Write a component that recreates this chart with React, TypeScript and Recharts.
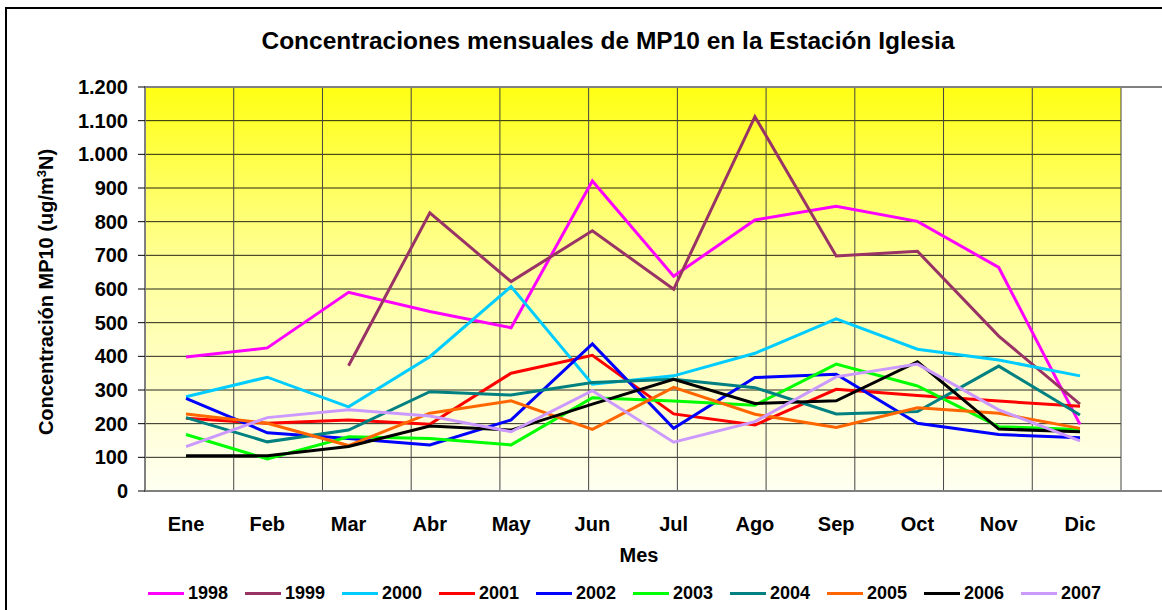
import { LineChart, Line, XAxis, YAxis, CartesianGrid, ReferenceArea } from 'recharts';

const months = ['Ene', 'Feb', 'Mar', 'Abr', 'May', 'Jun', 'Jul', 'Ago', 'Sep', 'Oct', 'Nov', 'Dic'];

const y1998 = [398, 425, 590, 533, 485, 921, 638, 805, 846, 801, 664, 198];
const y1999 = [null, null, 372, 826, 622, 773, 599, 1112, 698, 712, 460, 258];
const y2000 = [280, 338, 250, 399, 607, 317, 342, 409, 511, 421, 389, 342];
const y2001 = [216, 201, 211, 198, 350, 403, 229, 196, 302, 284, 267, 252];
const y2002 = [275, 173, 156, 137, 211, 437, 186, 337, 347, 201, 168, 158];
const y2003 = [168, 95, 161, 156, 137, 277, 267, 255, 377, 312, 191, 183];
const y2004 = [218, 146, 181, 295, 285, 322, 332, 307, 229, 236, 371, 226];
const y2005 = [229, 201, 135, 231, 268, 183, 308, 228, 189, 247, 231, 186];
const y2006 = [105, 105, 132, 193, 181, 258, 332, 260, 268, 384, 184, 176];
const y2007 = [132, 218, 241, 223, 176, 298, 145, 206, 339, 377, 241, 149];

const yTicks = [0, 100, 200, 300, 400, 500, 600, 700, 800, 900, 1000, 1100, 1200];
const boundaryTicks = [0, 1, 2, 3, 4, 5, 6, 7, 8, 9, 10, 11, 12];

const series = [
  { name: '1998', values: y1998, color: '#FF00FF' },
  { name: '1999', values: y1999, color: '#993366' },
  { name: '2000', values: y2000, color: '#00CCFF' },
  { name: '2001', values: y2001, color: '#FF0000' },
  { name: '2002', values: y2002, color: '#0000FF' },
  { name: '2003', values: y2003, color: '#00FF00' },
  { name: '2004', values: y2004, color: '#008080' },
  { name: '2005', values: y2005, color: '#FF6600' },
  { name: '2006', values: y2006, color: '#000000' },
  { name: '2007', values: y2007, color: '#CC99FF' },
];

const data = months.map((m, i) => {
  const row: Record<string, string | number | null> = { mes: m };
  series.forEach((s) => {
    row[s.name] = s.values[i];
  });
  return row;
});

const font = '"Liberation Sans", Arial, sans-serif';

// 1200 -> "1.200"
const fmt = (v: number) => String(v).replace(/\B(?=(\d{3})+(?!\d))/g, '.');

export default function App() {
  return (
    <div style={{ position: 'absolute', left: 0, top: 0, width: 1162, height: 610, overflow: 'hidden', background: '#fff', fontFamily: font }}>
      <div style={{ position: 'absolute', left: 5, top: 7, width: 1300, height: 800, border: '2px solid #000', boxSizing: 'border-box' }} />
      <div style={{ position: 'absolute', left: 0, width: 1216, top: 27, textAlign: 'center', fontWeight: 'bold', fontSize: 24.5 }}>
        Concentraciones mensuales de MP10 en la Estación Iglesia
      </div>
      <div style={{ position: 'absolute', left: 0, top: 0 }}>
        <LineChart width={1162} height={610} data={data} margin={{ top: 87, right: 41, bottom: 89, left: 85 }}>
          <defs>
            <linearGradient id="bg" x1="0" y1="0" x2="0" y2="1">
              <stop offset="0%" stopColor="#FFFF14" />
              <stop offset="45%" stopColor="#FFFF9C" />
              <stop offset="100%" stopColor="#FFFFF2" />
            </linearGradient>
          </defs>
          <CartesianGrid vertical={false} fill="url(#bg)" stroke="#000" strokeOpacity={0.85} />
          <CartesianGrid horizontal={false} xAxisId="b" stroke="#444" />
          <XAxis
            xAxisId="b"
            type="number"
            domain={[0, 12]}
            ticks={boundaryTicks}
            allowDataOverflow
            height={0}
            axisLine={false}
            tickSize={7}
            tickLine={{ stroke: '#000' }}
            tickFormatter={() => ''}
          />
          <XAxis
            xAxisId="cat"
            dataKey="mes"
            height={30}
            padding={{ left: 41, right: 41 }}
            axisLine={false}
            tickLine={false}
            tickMargin={20}
            tick={{ fill: '#000', fontSize: 20, fontWeight: 'bold', fontFamily: font }}
            interval={0}
          />
          <YAxis
            domain={[0, 1200]}
            ticks={yTicks}
            width={60}
            tickSize={7}
            tickMargin={10}
            tickFormatter={fmt}
            axisLine={{ stroke: '#808080', strokeWidth: 2 }}
            tickLine={{ stroke: '#000' }}
            tick={{ fill: '#000', fontSize: 20, fontWeight: 'bold', fontFamily: font }}
            interval={0}
          />
          <ReferenceArea xAxisId="b" x1={0} x2={12} y1={0} y2={1200} fill="none" stroke="#808080" strokeWidth={2} ifOverflow="visible" />
          {series.map((s) => (
            <Line
              key={s.name}
              xAxisId="cat"
              type="linear"
              dataKey={s.name}
              stroke={s.color}
              strokeWidth={3}
              dot={false}
              activeDot={false}
              isAnimationActive={false}
            />
          ))}
        </LineChart>
      </div>
      <div style={{ position: 'absolute', left: 46, top: 292, width: 0, height: 0 }}>
        <div style={{ position: 'absolute', transform: 'translate(-50%, -50%) rotate(-90deg)', whiteSpace: 'nowrap', fontWeight: 'bold', fontSize: 20 }}>
          Concentración MP10 (ug/m<sup style={{ fontSize: 13 }}>3</sup>N)
        </div>
      </div>
      <div style={{ position: 'absolute', left: 589, width: 100, top: 544, textAlign: 'center', fontWeight: 'bold', fontSize: 20 }}>Mes</div>
      <div style={{ position: 'absolute', left: 148, top: 583, display: 'flex' }}>
        {series.map((s) => (
          <div key={s.name} style={{ width: 97, display: 'flex', alignItems: 'center' }}>
            <div style={{ width: 36, height: 3, background: s.color, marginRight: 4 }} />
            <span style={{ fontWeight: 'bold', fontSize: 18 }}>{s.name}</span>
          </div>
        ))}
      </div>
    </div>
  );
}
